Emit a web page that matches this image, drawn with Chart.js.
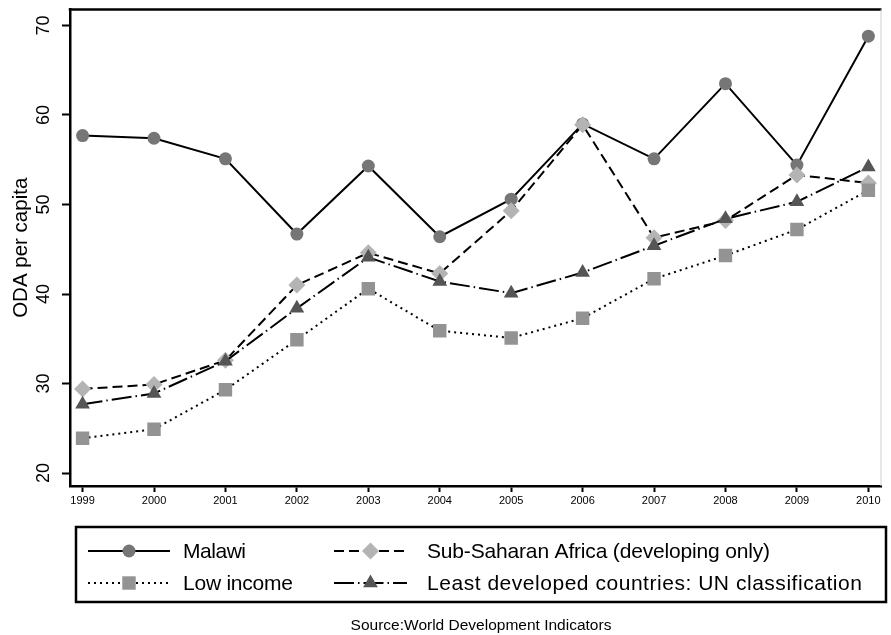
<!DOCTYPE html>
<html>
<head>
<meta charset="utf-8">
<script src="https://cdn.jsdelivr.net/npm/chart.js@4/dist/chart.umd.min.js"></script>
<style>
  html, body { margin: 0; padding: 0; background: #fff; }
  #wrap { width: 891px; height: 635px; position: relative; }
</style>
</head>
<body>
<div id="wrap"><canvas id="c" width="891" height="635"></canvas></div>
<script>
// ODA per capita, 1999-2010
const years = [1999, 2000, 2001, 2002, 2003, 2004, 2005, 2006, 2007, 2008, 2009, 2010];
const malawi = [57.7, 57.4, 55.1, 46.7, 54.3, 46.4, 50.6, 59.0, 55.1, 63.5, 54.4, 68.8];
const subSaharan = [29.4, 29.9, 32.6, 41.0, 44.6, 42.3, 49.3, 58.9, 46.3, 48.2, 53.3, 52.4];
const lowIncome = [23.9, 24.9, 29.3, 34.9, 40.6, 35.9, 35.1, 37.3, 41.7, 44.3, 47.2, 51.6];
const leastDeveloped = [27.7, 28.9, 32.5, 38.4, 44.1, 41.4, 40.1, 42.4, 45.4, 48.4, 50.3, 54.2];
const yTicks = [20, 30, 40, 50, 60, 70];
const seriesNames = [
  'Malawi',
  'Sub-Saharan Africa (developing only)',
  'Low income',
  'Least developed countries: UN classification'
];
const yTitle = 'ODA per capita';
const sourceNote = 'Source:World Development Indicators';

const FONT = "'Liberation Sans', Arial, Helvetica, sans-serif";

const toPoints = vals => vals.map((v, i) => ({ x: years[i], y: v }));

// series styles: line dash, marker shape, marker colour, legend label width
const styles = [
  { dash: [], point: 'circle', radius: 6.5, color: '#767676', order: 4, labelWidth: 63 },
  { dash: [10, 5], point: 'rectRot', radius: 8.5, color: '#b4b4b4', order: 3, labelWidth: 343 },
  { dash: [2, 4], point: 'rect', radius: 9.5, color: '#939393', order: 1, labelWidth: 110 },
  { dash: [20, 4, 1.5, 4], point: 'triangle', radius: 8.5, color: '#555555', order: 2, labelWidth: 435 }
];
const seriesValues = [malawi, subSaharan, lowIncome, leastDeveloped];

const datasets = seriesValues.map((vals, i) => ({
  label: seriesNames[i],
  data: toPoints(vals),
  borderColor: '#000',
  borderWidth: 2,
  borderDash: styles[i].dash,
  borderCapStyle: 'butt',
  tension: 0,
  fill: false,
  pointStyle: styles[i].point,
  pointRadius: styles[i].radius,
  pointHoverRadius: styles[i].radius,
  pointBackgroundColor: styles[i].color,
  pointBorderColor: styles[i].color,
  pointBorderWidth: 0,
  order: styles[i].order
}));

// frame, legend box and source note
const decorations = {
  id: 'decorations',
  afterDraw(chart) {
    const ctx = chart.ctx;
    const a = chart.chartArea;
    ctx.save();
    // top frame line and light right edge
    ctx.strokeStyle = '#000';
    ctx.lineWidth = 2.5;
    ctx.setLineDash([]);
    ctx.beginPath();
    ctx.moveTo(a.left - 1.25, a.top);
    ctx.lineTo(a.right, a.top);
    ctx.stroke();
    ctx.strokeStyle = '#cfcfcf';
    ctx.lineWidth = 1;
    ctx.beginPath();
    ctx.moveTo(a.right - 0.5, a.top);
    ctx.lineTo(a.right - 0.5, a.bottom);
    ctx.stroke();

    // legend box
    const box = { left: 76, top: 527, right: 886, bottom: 602 };
    ctx.strokeStyle = '#000';
    ctx.lineWidth = 2.5;
    ctx.strokeRect(box.left, box.top, box.right - box.left, box.bottom - box.top);

    const rows = [551, 583];
    const cols = [
      { x0: 88, x1: 170, text: 183 },
      { x0: 334, x1: 407, text: 427 }
    ];
    // legend order: row-major, 2 columns
    const slots = [[0, 0], [0, 1], [1, 0], [1, 1]];
    chart.data.datasets.forEach((ds, i) => {
      const [r, c] = slots[i];
      const y = rows[r];
      const col = cols[c];
      ctx.strokeStyle = '#000';
      ctx.lineWidth = 2;
      ctx.lineCap = 'butt';
      ctx.setLineDash(ds.borderDash || []);
      ctx.beginPath();
      ctx.moveTo(col.x0, y);
      ctx.lineTo(col.x1, y);
      ctx.stroke();
      ctx.setLineDash([]);
      ctx.fillStyle = ds.pointBackgroundColor;
      Chart.helpers.drawPoint(ctx, {
        pointStyle: ds.pointStyle,
        radius: ds.pointRadius,
        rotation: 0,
        borderWidth: 0
      }, (col.x0 + col.x1) / 2, y);

      // label, spaced to its set width
      ctx.fillStyle = '#000';
      ctx.font = '21px ' + FONT;
      ctx.textAlign = 'left';
      ctx.textBaseline = 'middle';
      ctx.letterSpacing = '0px';
      const natural = ctx.measureText(ds.label).width;
      const n = Math.max(ds.label.length - 1, 1);
      const spacing = (styles[i].labelWidth - natural) / n;
      ctx.letterSpacing = spacing.toFixed(2) + 'px';
      ctx.fillText(ds.label, col.text, y + 1);
      ctx.letterSpacing = '0px';
    });

    // source note
    ctx.fillStyle = '#000';
    ctx.font = '15.5px ' + FONT;
    ctx.textAlign = 'center';
    ctx.textBaseline = 'middle';
    ctx.fillText(sourceNote, 481, 626);
    ctx.restore();
  }
};

new Chart(document.getElementById('c'), {
  type: 'line',
  data: { datasets },
  options: {
    responsive: false,
    animation: false,
    devicePixelRatio: 1,
    layout: { padding: { left: 0, top: 7, right: 1, bottom: 129 } },
    plugins: { legend: { display: false }, tooltip: { enabled: false } },
    scales: {
      x: {
        type: 'linear',
        min: 1998.824,
        max: 2010.184,
        afterBuildTicks: s => { s.ticks = years.map(v => ({ value: v })); },
        afterFit: s => { s.height = 20; s.paddingLeft = 0; s.paddingRight = 0; },
        border: { display: true, color: '#000', width: 2.5 },
        grid: { display: true, drawOnChartArea: false, drawTicks: true, tickLength: 6, tickWidth: 2, tickColor: '#000' },
        ticks: {
          autoSkip: false, minRotation: 0, maxRotation: 0, padding: 2, color: '#000',
          font: { family: FONT, size: 11 },
          callback: v => String(v)
        }
      },
      y: {
        type: 'linear',
        min: 18.56,
        max: 71.78,
        afterBuildTicks: s => { s.ticks = yTicks.map(v => ({ value: v })); },
        afterFit: s => { s.width = 70; s.paddingTop = 0; s.paddingBottom = 0; },
        border: { display: true, color: '#000', width: 2.5 },
        grid: { display: true, drawOnChartArea: false, drawTicks: true, tickLength: 8, tickWidth: 2, tickColor: '#000' },
        ticks: {
          minRotation: 90, maxRotation: 90, crossAlign: 'center', padding: 8, color: '#000',
          font: { family: FONT, size: 18 },
          callback: v => String(v)
        },
        title: {
          display: true, text: yTitle, color: '#000',
          font: { family: FONT, size: 20.5 },
          padding: { top: 9, bottom: 0 }
        }
      }
    }
  },
  plugins: [decorations]
});
</script>
</body>
</html>
